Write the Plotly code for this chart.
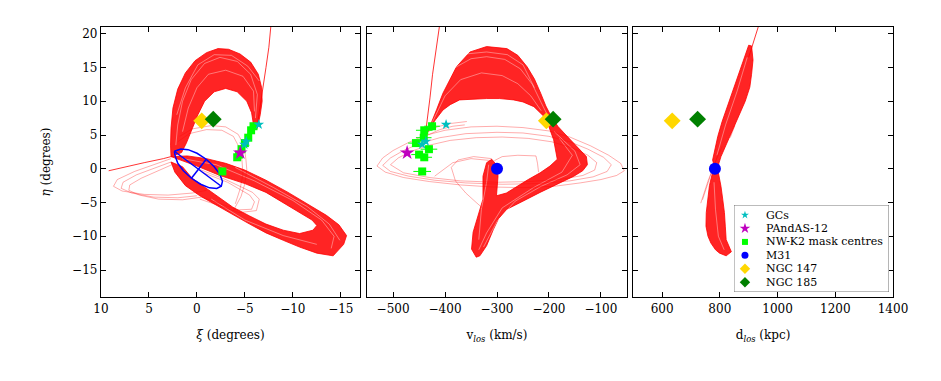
import plotly.graph_objects as go

# ---------------------------------------------------------------- data
# orbit bundles: (x, eta) outlines of the dense bands
XI_UPPER_LOOP = [(-6.3, 6.0), (-6.6, 8.0), (-6.8, 10.0), (-6.75, 12.0), (-6.4, 14.0), (-5.6, 15.8),
                 (-4.5, 17.0), (-3.3, 17.7), (-2.2, 17.8), (-1.0, 17.2), (0.2, 16.0), (1.2, 14.2),
                 (2.0, 11.8), (2.5, 9.0), (2.7, 6.0), (2.75, 3.5), (2.7, 1.8), (1.6, 2.4), (1.1, 3.8),
                 (0.5, 6.0), (-0.1, 8.0), (-0.8, 10.0), (-1.8, 11.4), (-3.0, 11.9), (-4.2, 11.4),
                 (-5.2, 10.0), (-5.7, 8.3), (-5.9, 6.5)]
XI_LOWER_LOOP = [(2.7, 1.8), (1.0, 1.9), (-1.0, 1.5), (-3.0, 0.8), (-5.0, -0.2), (-7.2, -1.7),
                 (-9.5, -3.5), (-11.8, -5.4), (-13.5, -6.9), (-14.8, -8.3), (-15.6, -9.9),
                 (-15.3, -11.2), (-14.2, -12.9), (-12.5, -12.5), (-10.7, -11.6), (-9.0, -10.6),
                 (-7.2, -9.5), (-5.5, -8.2), (-3.75, -6.8), (-2.0, -5.4), (-0.3, -4.0), (1.2, -2.5),
                 (2.3, -0.5), (2.7, 1.0), (1.5, 0.3), (0.5, -1.4), (-1.3, -3.2), (-3.75, -5.7),
                 (-5.5, -7.0), (-7.2, -8.2), (-9.0, -9.1), (-10.7, -9.6), (-12.1, -9.1), (-12.5, -8.4),
                 (-12.0, -7.6), (-10.7, -6.5), (-9.0, -5.0), (-7.2, -3.5), (-5.0, -2.2), (-2.4, -1.0),
                 (0.0, 0.4), (1.5, 1.2)]
XI_STREAKS = [
    [(-6.1, 7.5), (-6.3, 11.0), (-5.6, 14.0), (-4.2, 15.9), (-2.4, 16.5), (-0.8, 15.6), (0.6, 13.2),
     (1.5, 10.0), (2.0, 6.5), (2.2, 3.5)],
    [(-6.0, 8.5), (-5.9, 11.5), (-4.8, 13.7), (-3.0, 14.6), (-1.2, 14.0), (0.0, 12.0), (0.9, 9.0),
     (1.5, 5.5)],
    [(-6.5, 13.0), (-5.3, 15.2), (-3.6, 16.8), (-1.8, 16.9), (-0.1, 15.4), (1.2, 12.0), (2.1, 8.0)],
    [(1.5, 1.5), (-2.0, 0.6), (-6.0, -1.8), (-10.0, -4.7), (-13.0, -7.6), (-14.3, -10.0),
     (-14.0, -11.8)],
    [(-4.0, 0.2), (-8.0, -2.8), (-11.5, -5.6), (-13.8, -8.2), (-14.9, -10.6)],
    [(-1.5, -4.5), (-5.0, -7.6), (-9.0, -9.9), (-12.5, -11.2)],
]
XI_SINGLE = [
    [(-7.7, 21.0), (-7.5, 18.0), (-7.2, 15.0), (-6.9, 12.0), (-6.6, 9.0), (-6.3, 6.5)],
    [(9.2, -0.3), (7.5, 0.3), (5.5, 0.9), (3.5, 1.5), (2.7, 1.8)],
]
XI_FAINT = [
    [(2.7, 1.5), (4.5, 0.6), (6.5, -0.4), (8.3, -1.6), (8.7, -2.6), (7.8, -3.3), (5.5, -3.8),
     (3.0, -3.9), (0.5, -3.6), (-1.0, -3.2)],
    [(2.7, 1.0), (4.5, 0.1), (6.3, -0.9), (7.7, -2.0), (7.9, -2.9), (6.8, -3.6), (4.5, -4.2),
     (2.0, -4.3), (0.0, -4.0)],
    [(2.6, 0.6), (4.2, -0.4), (5.8, -1.4), (7.0, -2.4), (7.1, -3.2), (6.0, -3.9), (4.0, -4.5),
     (1.5, -4.6), (-0.5, -4.2)],
    [(1.8, 4.8), (0.5, 5.9), (-1.5, 6.4), (-3.0, 6.2), (-4.3, 5.1), (-4.9, 3.5), (-5.1, 1.5),
     (-5.2, -0.1), (-5.0, -2.2), (-4.6, -4.1), (-3.8, -6.2)],
    [(2.0, 4.0), (0.8, 5.2), (-1.0, 5.8), (-2.6, 5.7), (-3.8, 4.8), (-4.4, 3.2), (-4.7, 1.2),
     (-4.8, -0.8), (-4.5, -3.0), (-4.0, -5.2)],
    [(-0.3, -0.1), (-3.0, -1.6), (-5.8, -3.5), (-6.5, -4.5), (-6.2, -6.2), (-4.4, -6.5),
     (-2.4, -5.5), (-0.3, -4.5)],
    [(-0.5, -0.5), (-3.2, -2.0), (-5.5, -3.9), (-6.0, -4.9), (-5.7, -6.0), (-4.2, -6.1),
     (-2.3, -5.1), (-0.5, -4.2)],
]
M31_DISK = [(2.35, 2.59), (1.67, 2.93), (0.92, 2.83), (-0.01, 2.29), (-0.97, 1.41), (-1.8, 0.3),
            (-2.4, -0.84), (-2.66, -1.86), (-2.54, -2.59), (-2.07, -2.93), (-1.31, -2.83),
            (-0.39, -2.29), (0.57, -1.41), (1.41, -0.3), (2.0, 0.84), (2.26, 1.86), (2.35, 2.59)]
M31_MAJOR = [(2.35, 2.59), (-2.54, -2.59)]
M31_MINOR = [(0.57, -1.41), (-0.97, 1.41)]

V_BAND = [(-442, 4.5), (-428, 6.5), (-416, 8.8), (-404, 11.2), (-390, 13.3), (-378, 15.1),
          (-352, 17.3), (-320, 18.1), (-281, 17.8), (-260, 16.8), (-242, 15.1), (-228, 13.3),
          (-216, 11.2), (-206, 9.3), (-196, 7.8), (-183, 6.3), (-171, 5.3), (-155, 4.0),
          (-139, 2.85), (-128, 1.8), (-126, 0.6), (-135, -0.3), (-152, -1.1), (-185, -2.3),
          (-217, -3.5), (-250, -4.8), (-281, -6.0), (-297, -7.4), (-307, -9.0), (-320, -11.4),
          (-333, -12.9), (-340, -13.1), (-349, -11.9), (-346, -9.4), (-337, -7.0), (-327, -4.5),
          (-327, -1.1), (-320, 0.9), (-310, 1.4), (-300, 0.5), (-298, -1.1), (-301, -4.0),
          (-282, -3.6), (-262, -2.6), (-240, -1.6), (-217, -0.6), (-198, 0.4), (-184, 1.4),
          (-188, 3.0), (-191, 4.3), (-200, 6.2), (-209, 7.7), (-229, 9.2), (-250, 9.9),
          (-268, 10.2), (-295, 10.4), (-320, 10.4), (-345, 10.3), (-372, 10.2), (-390, 9.5),
          (-404, 8.7), (-418, 7.3), (-430, 6.0), (-437, 4.8)]
V_STREAKS = [
    [(-432, 6.5), (-410, 11.5), (-385, 14.8), (-350, 16.3), (-320, 16.6), (-285, 16.2),
     (-255, 14.8), (-232, 12.5), (-215, 9.8), (-202, 7.8)],
    [(-425, 6.8), (-400, 10.8), (-370, 13.2), (-330, 14.2), (-290, 13.8), (-260, 12.6),
     (-235, 10.8), (-215, 8.6)],
    [(-437, 7.5), (-420, 12.0), (-395, 15.3), (-360, 17.0), (-320, 17.3), (-280, 16.9),
     (-250, 15.4), (-228, 12.0)],
    [(-180, 4.5), (-155, 2.0), (-175, -0.5), (-230, -2.8), (-290, -5.8), (-320, -9.5),
     (-335, -12.0)],
    [(-190, 5.5), (-150, 2.6), (-140, 0.6), (-165, -0.9), (-215, -2.6), (-265, -4.8),
     (-300, -7.8), (-326, -11.6)],
    [(-335, -10.5), (-330, -6.0), (-320, -2.0), (-316, 0.6)],
]
V_SINGLE = [
    [(-411, 21.0), (-418, 17.5), (-424, 14.0), (-429, 10.5), (-434, 7.0), (-438, 5.0)],
]
V_FAINT = [
    [(-531, 0.4), (-520, 1.6), (-500, 2.7), (-470, 3.9), (-440, 4.9), (-400, 5.7), (-350, 6.2),
     (-300, 6.3), (-250, 6.1), (-200, 5.6), (-160, 4.7), (-120, 3.4), (-85, 2.0), (-62, 0.8),
     (-55, -0.3), (-70, -1.0), (-100, -1.6), (-140, -2.1), (-190, -2.6), (-250, -2.8),
     (-310, -2.7), (-370, -2.4), (-430, -1.9), (-480, -1.3), (-515, -0.5), (-531, 0.4)],
    [(-520, 0.5), (-505, 1.6), (-480, 2.7), (-450, 3.7), (-410, 4.6), (-360, 5.2), (-300, 5.4),
     (-250, 5.3), (-200, 4.8), (-160, 4.0), (-125, 2.9), (-95, 1.7), (-80, 0.6), (-88, -0.4),
     (-115, -1.2), (-160, -1.8), (-220, -2.2), (-290, -2.3), (-360, -2.1), (-420, -1.7),
     (-470, -1.1), (-505, -0.4), (-520, 0.5)],
    [(-505, 0.6), (-490, 1.6), (-465, 2.6), (-430, 3.5), (-390, 4.2), (-340, 4.6), (-290, 4.7),
     (-240, 4.5), (-195, 4.0), (-155, 3.1), (-125, 2.0), (-108, 0.9), (-112, -0.2), (-135, -1.0),
     (-180, -1.6), (-240, -1.9), (-300, -2.0), (-370, -1.8), (-430, -1.3), (-480, -0.6),
     (-505, 0.6)],
    [(-437, 5.3), (-415, 6.2), (-390, 6.7), (-358, 7.0)],
    [(-436, 4.9), (-410, 5.8), (-385, 6.3), (-362, 6.5)],
    [(-305, 1.2), (-290, 1.8), (-260, 2.0), (-225, 1.9), (-222, 0.8), (-220, -0.5)],
    [(-310, 1.5), (-345, 1.8), (-375, 1.3), (-388, 0.2), (-380, -1.8), (-360, -3.6),
     (-340, -5.0), (-328, -5.8)],
    [(-310, 1.2), (-350, 1.5), (-385, 0.9), (-405, -0.2), (-420, -1.1)],
]

D_UPPER_LOBE = [(775, 1.3), (793, 4.8), (808, 7.0), (822, 8.7), (840, 11.0), (857, 13.1),
                (875, 15.3), (892, 17.3), (900, 18.3), (910, 18.2), (915, 16.1), (910, 14.0),
                (904, 12.1), (888, 10.0), (869, 8.2), (852, 6.4), (834, 4.8), (818, 3.2),
                (804, 1.8), (793, 0.3), (783, 0.0)]
D_LOWER_LOBE = [(785, 0.3), (775, -0.5), (764, -2.5), (758, -4.6), (753, -6.5), (752, -8.5),
                (759, -10.0), (769, -11.0), (785, -12.0), (799, -12.5), (822, -12.9),
                (840, -12.3), (832, -11.5), (822, -10.5), (819, -8.5), (816, -6.5), (810, -4.5),
                (804, -2.6), (795, -0.6)]
D_STREAKS = [
    [(790, 2.0), (820, 6.5), (860, 11.5), (895, 16.5)],
    [(780, -2.0), (785, -6.0), (795, -10.0), (815, -12.0)],
]
D_SINGLE = [
    [(933, 21.0), (922, 19.5), (910, 18.0), (900, 16.5)],
]
D_FAINT = [
    [(734, -5.1), (745, -3.6), (760, -1.7), (775, -0.1), (790, 1.5), (800, 2.8)],
    [(740, -4.6), (752, -3.0), (766, -1.0), (780, 0.6), (795, 2.0), (808, 3.3)],
    [(836, 4.6), (845, 5.6), (852, 6.4)],
]

# observed objects
GC_XI = [-6.45, -5.15, -4.95]
GC_V = [-398, -437, -444]
GC_ETA = [6.55, 4.05, 3.6]

P12_XI = [-4.52]
P12_V = [-473]
P12_ETA = [2.36]

NWK2_XI = [-5.9, -5.65, -5.35, -5.0, -4.65, -4.4, -4.2, -2.65]
NWK2_V = [-425, -440, -441, -456, -431, -450, -440, -444]
NWK2_V_ERR = [15, 16, 15, 15, 16, 15, 15, 17]
NWK2_ETA = [6.3, 5.7, 4.6, 3.8, 2.9, 2.1, 1.7, -0.4]

M31_V, M31_D, M31_ETA = [-300], [783], [0.0]
N147_XI, N147_V, N147_D, N147_ETA = [-0.5], [-205], [635], [7.1]
N185_XI, N185_V, N185_D, N185_ETA = [-1.7], [-192], [723], [7.35]

LEGEND_LABELS = ["GCs", "PAndAS-12", "NW-K2 mask centres", "M31", "NGC 147", "NGC 185"]

# ---------------------------------------------------------------- style
RED = "#ff0000"
FONT = "DejaVu Serif"
C_GC, C_P12, C_NW, C_M31 = "#00bfbf", "#bf00bf", "#00ff00", "#0000ff"
C_147, C_185 = "#ffd700", "#008000"
LEGEND_SYMBOLS = ["star", "star", "square", "circle", "diamond", "diamond"]
LEGEND_COLORS = [C_GC, C_P12, C_NW, C_M31, C_147, C_185]
LEGEND_SIZES = [6, 8, 6, 7, 8, 8]
STREAK = "rgba(255,255,255,0.55)"
FAINT = "rgba(255,0,0,0.55)"

fig = go.Figure()


def unzip(points):
    xs, ys = zip(*points)
    return list(xs), list(ys)


def add_band(points, xa, ya):
    x, y = unzip(points)
    fig.add_trace(go.Scatter(x=x + [x[0]], y=y + [y[0]], mode="lines", fill="toself",
                             fillcolor="rgba(255,0,0,0.86)", line=dict(color=RED, width=0.8),
                             xaxis=xa, yaxis=ya, hoverinfo="skip", showlegend=False))


def add_line(points, xa, ya, color=FAINT, width=0.6):
    x, y = unzip(points)
    fig.add_trace(go.Scatter(x=x, y=y, mode="lines", line=dict(color=color, width=width),
                             xaxis=xa, yaxis=ya, hoverinfo="skip", showlegend=False))


def add_marks(x, y, xa, ya, symbol, color, size, error=None):
    fig.add_trace(go.Scatter(x=x, y=y, mode="markers", xaxis=xa, yaxis=ya, showlegend=False,
                             marker=dict(symbol=symbol, color=color, size=size, line=dict(width=0)),
                             error_x=dict(type="data", array=error, color=color, thickness=1,
                                          width=0, visible=error is not None)))


def add_orbits(bands, streaks, single, faint, xa, ya):
    for band in bands:
        add_band(band, xa, ya)
    for line in streaks:
        add_line(line, xa, ya, color=STREAK, width=0.7)
    for line in single:
        add_line(line, xa, ya, color=RED, width=0.8)
    for line in faint:
        add_line(line, xa, ya)


# panel 1: xi / eta
add_orbits((XI_UPPER_LOOP, XI_LOWER_LOOP), XI_STREAKS, XI_SINGLE, XI_FAINT, "x", "y")
for part in (M31_DISK, M31_MAJOR, M31_MINOR):
    add_line(part, "x", "y", color=C_M31, width=1.5)
add_marks(NWK2_XI, NWK2_ETA, "x", "y", "square", C_NW, 8)
add_marks(GC_XI, GC_ETA, "x", "y", "star", C_GC, 8)
add_marks(P12_XI, P12_ETA, "x", "y", "star", C_P12, 11)
add_marks(N147_XI, N147_ETA, "x", "y", "diamond", C_147, 13)
add_marks(N185_XI, N185_ETA, "x", "y", "diamond", C_185, 13)

# panel 2: v_los / eta
add_orbits((V_BAND,), V_STREAKS, V_SINGLE, V_FAINT, "x2", "y2")
add_marks(NWK2_V, NWK2_ETA, "x2", "y2", "square", C_NW, 8, error=NWK2_V_ERR)
add_marks(GC_V, GC_ETA, "x2", "y2", "star", C_GC, 8)
add_marks(P12_V, P12_ETA, "x2", "y2", "star", C_P12, 11)
add_marks(M31_V, M31_ETA, "x2", "y2", "circle", C_M31, 12)
add_marks(N147_V, N147_ETA, "x2", "y2", "diamond", C_147, 13)
add_marks(N185_V, N185_ETA, "x2", "y2", "diamond", C_185, 13)

# panel 3: d_los / eta
add_orbits((D_UPPER_LOBE, D_LOWER_LOBE), D_STREAKS, D_SINGLE, D_FAINT, "x3", "y3")
add_marks(M31_D, M31_ETA, "x3", "y3", "circle", C_M31, 12)
add_marks(N147_D, N147_ETA, "x3", "y3", "diamond", C_147, 13)
add_marks(N185_D, N185_ETA, "x3", "y3", "diamond", C_185, 13)

# hand-built legend box (plotly's own legend rows are too tall)
ROW0, ROW_STEP = 10, 13.45
rows = [ROW0 + ROW_STEP * i for i in range(len(LEGEND_LABELS))]
for row, sym, col, size in zip(rows, LEGEND_SYMBOLS, LEGEND_COLORS, LEGEND_SIZES):
    add_marks([11], [row], "x4", "y4", sym, col, size)
annotations = [dict(x=30, y=row, xref="x4", yref="y4", text=label, showarrow=False,
                    xanchor="left", yanchor="middle", font=dict(family=FONT, size=11, color="black"))
               for row, label in zip(rows, LEGEND_LABELS)]

# ---------------------------------------------------------------- layout
axis_common = dict(showline=True, linecolor="black", linewidth=1.3, mirror="ticks",
                   ticks="inside", ticklen=5, tickwidth=1, tickcolor="black",
                   showgrid=False, zeroline=False,
                   tickfont=dict(family=FONT, size=12, color="black"))
title_font = dict(family=FONT, size=12, color="black")
eta_ticks = [-15, -10, -5, 0, 5, 10, 15, 20]

fig.update_layout(
    width=941, height=381,
    margin=dict(l=101, r=48, t=27, b=84),
    paper_bgcolor="white", plot_bgcolor="white",
    showlegend=False,
    annotations=annotations,
    shapes=[dict(type="rect", xref="x4", yref="y4", x0=0, x1=155, y0=0, y1=87,
                 line=dict(color="#555555", width=0.8), fillcolor="rgba(0,0,0,0)")],
    xaxis=dict(domain=[0, 0.327], range=[10, -17], tickvals=[10, 5, 0, -5, -10, -15],
               anchor="y", title=dict(text="<i>ξ</i> (degrees)", font=title_font, standoff=16),
               **axis_common),
    xaxis2=dict(domain=[0.336, 0.664], range=[-550, -50], tickvals=[-500, -400, -300, -200, -100],
                anchor="y2", title=dict(text="v<sub><i>los</i></sub> (km/s)", font=title_font,
                                        standoff=16), **axis_common),
    xaxis3=dict(domain=[0.672, 1.0], range=[500, 1400], tickvals=[600, 800, 1000, 1200, 1400],
                anchor="y3", title=dict(text="d<sub><i>los</i></sub> (kpc)", font=title_font,
                                        standoff=16), **axis_common),
    yaxis=dict(domain=[0, 1], range=[-19, 21], tickvals=eta_ticks, anchor="x",
               title=dict(text="<i>η</i> (degrees)", font=title_font, standoff=18),
               **axis_common),
    yaxis2=dict(domain=[0, 1], range=[-19, 21], tickvals=eta_ticks, anchor="x2",
                showticklabels=False, **axis_common),
    yaxis3=dict(domain=[0, 1], range=[-19, 21], tickvals=eta_ticks, anchor="x3",
                showticklabels=False, **axis_common),
    xaxis4=dict(domain=[0.7992, 0.9949], range=[0, 155], anchor="y4", visible=False,
                fixedrange=True),
    yaxis4=dict(domain=[0.0185, 0.3407], range=[87, 0], anchor="x4", visible=False,
                fixedrange=True),
)

# the page's default 8px body margin would shift the whole figure
fig.write_html("out.html", config={"displayModeBar": False},
               post_script="document.body.style.margin='0px';")
